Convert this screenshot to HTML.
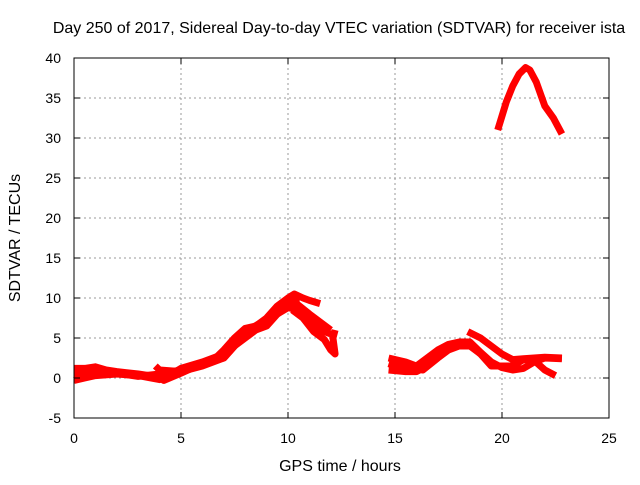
<!DOCTYPE html>
<html><head><meta charset="utf-8"><style>
body{margin:0;background:#fff;width:640px;height:480px;overflow:hidden}
svg text{font-family:"Liberation Sans",Arial,sans-serif;font-size:14px;fill:#000}
svg text.t{font-size:16px}
</style></head><body>
<svg id="chart" width="640" height="480" xmlns="http://www.w3.org/2000/svg">
<text class="t" x="339" y="33" text-anchor="middle">Day 250 of 2017, Sidereal Day-to-day VTEC variation (SDTVAR) for receiver ista</text>
<text class="t" transform="translate(20,238) rotate(-90)" text-anchor="middle">SDTVAR / TECUs</text>
<text class="t" x="340" y="471" text-anchor="middle">GPS time / hours</text>
<g id="grid"></g><g id="series"></g><g id="axes"></g>
</svg>
<script>
const xTicks=[0,5,10,15,20,25];
const yTicks=[-5,0,5,10,15,20,25,30,35,40];
const s1x=[0,0.5,1,1.5,2,3,3.5,4,4.2,5,6,6.5,7,7.5,8,8.5,9,9.5,10,10.3,10.7,11,11.5];
const s1y=[1.2,1.2,1.4,1,0.8,0.5,0.3,0,-0.3,0.6,1.8,2.2,3.5,5,6.2,6.5,7.5,9,10,10.5,10,9.7,9.3];
const s2x=[0,0.5,1,2,3,4,4.5,5,6,7,7.5,8,9,9.5,10,10.5,11,11.5,12];
const s2y=[-0.3,0,0.3,0.5,0.3,-0.2,0.4,1.2,2,3,4.5,5.8,7.3,8,8.8,8.5,7,6,5.5];
const s3x=[3.8,4,5,6,7,8,9,10,10.3,11,11.5,12];
const s3y=[1.5,1.0,0.8,1.5,2.5,5.5,7,9,9.5,8,7,6];
const s4x=[10.2,10.7,11.2,11.7,12,12.2,12.1,12.2];
const s4y=[8.5,7.5,5.8,4.8,3.5,3,5,6];
const s9x=[0,1,2,3,4,5,6,7,7.5,8,8.5,9,9.5,10,10.5];
const s9y=[0.5,0.8,0.6,0.2,0.5,1.0,1.8,2.5,4,5,6,6.5,8,9.5,10];
const s5x=[14.7,15.5,16,16.5,17,17.5,18,18.5,19,19.5,20,20.5,21,21.5,22,22.8];
const s5y=[2.5,2,1.5,2.5,3.5,4.2,4.5,4.5,3.2,2,1.3,1.0,1.2,2,2.5,2.4];
const s6x=[14.7,15.5,16,16.5,17,17.5,18,18.5,19,19.5,20,20.5,21,21.5,22,22.5];
const s6y=[1,0.8,0.8,1.5,3,3.8,4.2,4.2,3,1.5,1.5,1.5,2.3,2.2,1.0,0.3];
const s10x=[14.7,15.3,15.8,16.3,17,17.5,18,18.5,19];
const s10y=[1.8,1.3,1.2,1.0,2.5,3.5,4.0,4.0,3.0];
const s7x=[18.4,19,19.5,20,20.5,21,21.5,22,22.8];
const s7y=[5.8,5,4,3,2.3,2.4,2.5,2.6,2.5];
const s8x=[19.8,20.2,20.5,20.8,21.1,21.3,21.6,22,22.4,22.8];
const s8y=[31,34.5,36.5,38,38.8,38.5,37,34,32.5,30.5];
const L=74,R=609,T=58,B=418;
const X=v=>L+(v-0)/25*(R-L);
const Y=v=>B-(v+5)/45*(B-T);
const NS="http://www.w3.org/2000/svg";
function mk(tag,parent){const e=document.createElementNS(NS,tag);parent.appendChild(e);return e;}
const grid=document.getElementById('grid'),axes=document.getElementById('axes'),ser=document.getElementById('series');
xTicks.forEach(t=>{
 if(t>0&&t<25){const g=mk('line',grid);g.setAttribute('x1',X(t));g.setAttribute('x2',X(t));g.setAttribute('y1',T);g.setAttribute('y2',B);g.setAttribute('stroke','#999');g.setAttribute('stroke-dasharray','2,3');
 
 }
 const tk=mk('text',axes);tk.setAttribute('x',X(t));tk.setAttribute('y',443);tk.setAttribute('text-anchor','middle');tk.textContent=t;
 
 
 [[B,B-6],[T,T+6]].forEach(p=>{const l=mk('line',axes);l.setAttribute('x1',X(t));l.setAttribute('x2',X(t));l.setAttribute('y1',p[0]);l.setAttribute('y2',p[1]);l.setAttribute('stroke','#000');});
});
yTicks.forEach(t=>{
 if(t>-5&&t<40){const g=mk('line',grid);g.setAttribute('x1',L);g.setAttribute('x2',R);g.setAttribute('y1',Y(t));g.setAttribute('y2',Y(t));g.setAttribute('stroke','#999');g.setAttribute('stroke-dasharray','2,3');
 
 }
 const tk=mk('text',axes);tk.setAttribute('x',61);tk.setAttribute('y',Y(t)+5);tk.setAttribute('text-anchor','end');tk.textContent=t;
 
 
 [[L,L+6],[R,R-6]].forEach(p=>{const l=mk('line',axes);l.setAttribute('y1',Y(t));l.setAttribute('y2',Y(t));l.setAttribute('x1',p[0]);l.setAttribute('x2',p[1]);l.setAttribute('stroke','#000');});
});
const fr=mk('rect',axes);fr.setAttribute('x',L);fr.setAttribute('y',T);fr.setAttribute('width',R-L);fr.setAttribute('height',B-T);fr.setAttribute('fill','none');fr.setAttribute('stroke','#000');


const all=[[s1x,s1y],[s2x,s2y],[s3x,s3y],[s4x,s4y],[s9x,s9y],[s5x,s5y],[s6x,s6y],[s10x,s10y],[s7x,s7y],[s8x,s8y]];
all.forEach((s,i)=>{
 const p=mk('polyline',ser);
 p.setAttribute('points',s[0].map((x,j)=>X(x)+','+Y(s[1][j])).join(' '));
 p.setAttribute('fill','none');p.setAttribute('stroke','#f00');p.setAttribute('stroke-width','7');p.setAttribute('stroke-linejoin','round');
 
 
});
</script>
</body></html>
